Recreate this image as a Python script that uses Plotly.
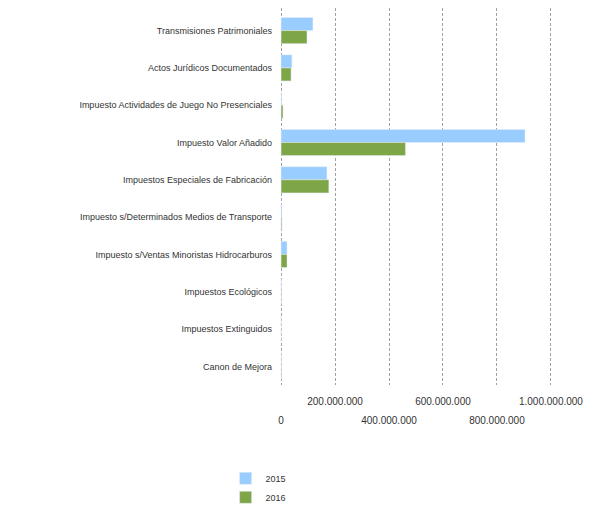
import plotly.graph_objects as go

categories = [
    "Transmisiones Patrimoniales",
    "Actos Jurídicos Documentados",
    "Impuesto Actividades de Juego No Presenciales",
    "Impuesto Valor Añadido",
    "Impuestos Especiales de Fabricación",
    "Impuesto s/Determinados Medios de Transporte",
    "Impuesto s/Ventas Minoristas Hidrocarburos",
    "Impuestos Ecológicos",
    "Impuestos Extinguidos",
    "Canon de Mejora",
]
values_2015 = [118e6, 40e6, 2e6, 904e6, 170e6, 3e6, 22e6, 1e6, 0.2e6, 1e6]
values_2016 = [96e6, 37e6, 7e6, 461e6, 177e6, 3e6, 22e6, 1e6, 0.2e6, 1.5e6]

ticks_upper = [200e6, 600e6, 1000e6]
ticks_lower = [0, 400e6, 800e6]

font_name = "Liberation Sans"
grid_color = "#a0a0a0"
x_range = [-4e6, 1.004e9]

fig = go.Figure()
fig.add_trace(go.Bar(y=categories, x=values_2015, name="2015", orientation="h",
                     marker_color="#99ccff"))
fig.add_trace(go.Bar(y=categories, x=values_2016, name="2016", orientation="h",
                     marker_color="#7ea546"))
# invisible helper so the second (staggered) x axis is drawn
fig.add_trace(go.Scatter(x=[0], y=[categories[0]], xaxis="x2", mode="markers",
                         marker_opacity=0, showlegend=False, hoverinfo="skip"))

# page body adds an 8px offset, so the figure is sized to fit the window
fig.update_layout(
    width=593,
    height=497,
    margin=dict(l=272, r=49, t=0, b=120, autoexpand=False),
    plot_bgcolor="white",
    paper_bgcolor="white",
    barmode="group",
    bargap=0.3,
    separators=",.",
    font=dict(family=font_name, size=9, color="#333333"),
    xaxis=dict(
        range=x_range,
        tickvals=ticks_upper,
        tickformat=",.0f",
        showgrid=True,
        gridcolor=grid_color,
        griddash="3px,2px",
        zeroline=False,
        showline=False,
        ticks="",
        automargin=False,
        ticklabelstandoff=9,
        tickfont=dict(size=10),
    ),
    xaxis2=dict(
        overlaying="x",
        side="bottom",
        range=x_range,
        tickvals=ticks_lower,
        tickformat=",.0f",
        showgrid=True,
        gridcolor=grid_color,
        griddash="3px,2px",
        zeroline=False,
        showline=False,
        ticks="",
        automargin=False,
        ticklabelstandoff=28,
        tickfont=dict(size=10),
    ),
    yaxis=dict(
        autorange="reversed",
        showgrid=False,
        zeroline=False,
        ticks="",
        automargin=False,
        ticklabelstandoff=7,
        tickfont=dict(size=9),
    ),
    legend=dict(
        x=-0.2,
        y=-0.209,
        xanchor="left",
        yanchor="top",
        orientation="v",
        font=dict(size=9),
        itemwidth=30,
        tracegroupgap=0,
    ),
)

fig.write_html("out.html")
